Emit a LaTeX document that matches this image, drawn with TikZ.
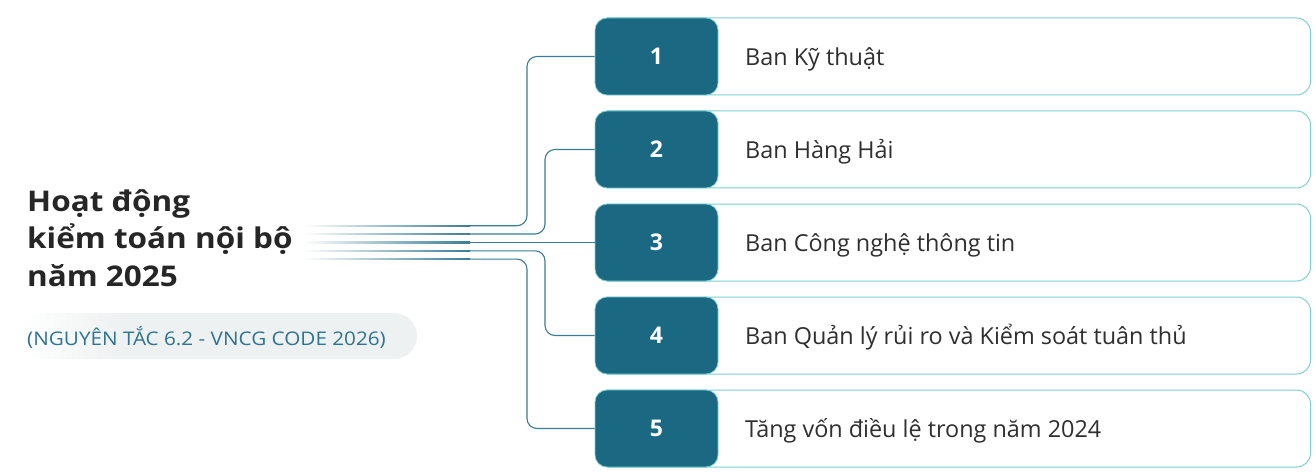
\documentclass[tikz,border=0pt]{standalone}
\usepackage{fontspec}
\setmainfont{Open Sans}
\newfontfamily\titlefont[FakeStretch=1.105]{Open Sans}
\newfontfamily\subfont[FakeStretch=1.1]{Open Sans}
\usetikzlibrary{calc}
\definecolor{darkbox}{HTML}{1B6883}
\definecolor{lightline}{HTML}{7ECFD2}
\definecolor{conncol}{HTML}{3A7C95}
\definecolor{titlecol}{HTML}{262626}
\definecolor{labelcol}{HTML}{2F2F2F}
\definecolor{subcol}{HTML}{2E7390}
\definecolor{pillgray}{HTML}{EEF1F1}
\pgfdeclarehorizontalshading{pillshade}{100bp}{color(0bp)=(white); color(25bp)=(white); color(38bp)=(pillgray); color(100bp)=(pillgray)}
\tikzset{
  outerbox/.style={draw=lightline, line width=1pt, fill=white, rounded corners=14pt,
    minimum width=715pt, minimum height=77pt, inner sep=0pt, anchor=west},
  numbox/.style={draw=lightline, line width=0.8pt, fill=darkbox, rounded corners=12pt,
    minimum width=123pt, minimum height=77pt, inner sep=0pt, text=white,
    font=\fontsize{23}{26}\selectfont\bfseries},
  label/.style={anchor=base west, inner sep=0pt, text=labelcol, font=\fontsize{23.4}{28}\selectfont},
  conn/.style={draw=conncol, line width=1.1pt, rounded corners=10pt},
  fadestrip/.style={left color=white, right color=conncol},
  titletext/.style={anchor=base west, inner sep=0pt, align=left, text=titlecol,
    font=\titlefont\fontsize{28.5}{37.5}\selectfont\bfseries},
  subtext/.style={anchor=base west, inner sep=0pt, text=subcol, font=\subfont\fontsize{18.8}{22}\selectfont},
}
\begin{document}
\begin{tikzpicture}[x=1pt,y=-1pt]
\useasboundingbox[fill=white] (0,0) rectangle (1316,473);

% subtitle pill
\shade[shading=pillshade, rounded corners=23pt] (20,313) rectangle (417,359);

% rows
\foreach \i/\cy/\txt in {1/56.5/Ban Kỹ thuật, 2/149.5/Ban Hàng Hải, 3/242.5/Ban Công nghệ thông tin,
  4/335.5/Ban Quản lý rủi ro và Kiểm soát tuân thủ, 5/428.5/Tăng vốn điều lệ trong năm 2024}{
  \node[outerbox] (o\i) at (595,\cy) {};
  \node[numbox] (d\i) at (656.5,\cy) {\i};
  \node[label] (l\i) at (745,\cy+8.8) {\txt};
}

% title and subtitle
\node[titletext] (title) at (27,286) {Hoạt động\\kiểm toán nội bộ\\năm 2025};
\node[subtext] (sub) at (27,345) {(NGUYÊN TẮC 6.2 - VNCG CODE 2026)};

% connectors
\coordinate (v1) at (527,0);
\coordinate (v2) at (545,0);
\foreach \i/\ly in {1/225.7, 2/234.0, 3/242.5, 4/250.8, 5/259.1}{
  \coordinate (f\i) at (303,\ly);
  \coordinate (s\i) at (470,\ly);
  \shade[fadestrip] ($(f\i)+(0,-0.55)$) rectangle ($(s\i)+(0,0.55)$);
}
\draw[conn] (s1) -| (d1.west -| v1) -- (d1.west);
\draw[conn] (s2) -| (d2.west -| v2) -- (d2.west);
\draw[conn] (s3) -- (d3.west);
\draw[conn] (s4) -| (d4.west -| v2) -- (d4.west);
\draw[conn] (s5) -| (d5.west -| v1) -- (d5.west);
\end{tikzpicture}
\end{document}
